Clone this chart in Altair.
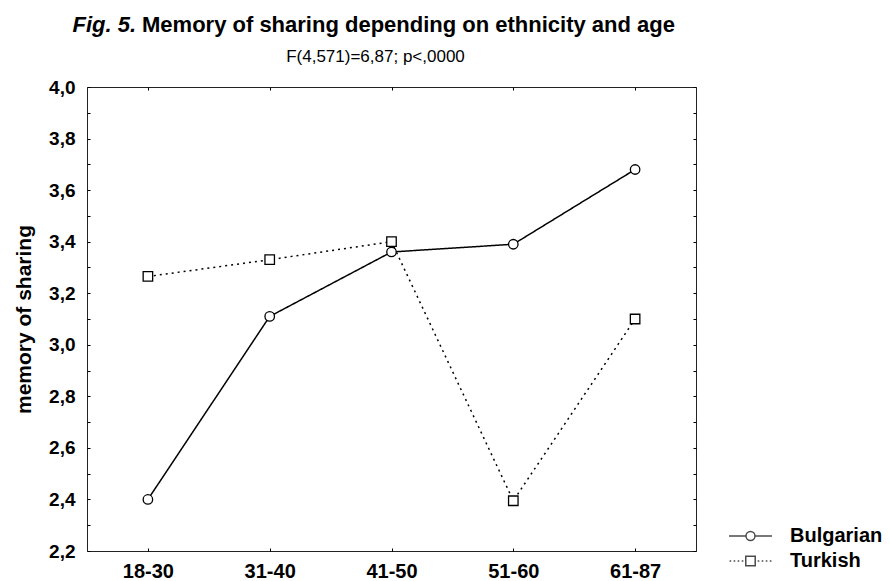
import altair as alt
import pandas as pd

ages = ["18-30", "31-40", "41-50", "51-60", "61-87"]
groups = ["Bulgarian", "Turkish"]
bulgarian = [2.40, 3.11, 3.36, 3.39, 3.68]
turkish = [3.265, 3.33, 3.40, 2.395, 3.10]
y_ticks = [2.2, 2.3, 2.4, 2.5, 2.6, 2.7, 2.8, 2.9, 3.0, 3.1, 3.2, 3.3, 3.4,
           3.5, 3.6, 3.7, 3.8, 3.9, 4.0]

title_fig = "Fig. 5."
title_main = "Memory of sharing depending on ethnicity and age"
subtitle = "F(4,571)=6,87; p<,0000"
y_title = "memory of sharing"

FONT = "Liberation Sans, Arial, Helvetica, sans-serif"

rows = []
for g, vals in zip(groups, [bulgarian, turkish]):
    for a, v in zip(ages, vals):
        rows.append({"age": a, "group": g, "value": v})
df = pd.DataFrame(rows)

W, H = 609, 464

xscale = alt.Scale(type="point", domain=ages, padding=0.5)
yscale = alt.Scale(domain=[2.2, 4.0], nice=False, zero=False)

label_expr = ("(round(datum.value*10) % 2 == 0) ? "
              "replace(format(datum.value, '.1f'), '.', ',') : ''")

base = alt.Chart(df)

lines = base.mark_line(color="black", strokeWidth=1.5).encode(
    x=alt.X("age:O", scale=xscale, sort=ages,
            axis=alt.Axis(orient="bottom", title=None, labelAngle=0,
                          labelFontSize=20, labelFontWeight="bold",
                          labelFont=FONT, labelColor="black",
                          labelPadding=10, tickSize=3, offset=-3,
                          tickColor="black", domain=False, grid=False)),
    y=alt.Y("value:Q", scale=yscale,
            axis=alt.Axis(orient="left", values=y_ticks, labelExpr=label_expr,
                          labelFontSize=19, labelFontWeight="bold",
                          labelFont=FONT, labelColor="black",
                          labelPadding=12, tickSize=3, offset=-3,
                          tickColor="black", domain=False, grid=False,
                          title=y_title, titleFontSize=21,
                          titleFontWeight="bold", titleFont=FONT,
                          titleColor="black", titleX=-56, titleY=H / 2,
                          titleAngle=270, titleBaseline="bottom",
                          titleAlign="center")),
    strokeDash=alt.StrokeDash("group:N",
                              scale=alt.Scale(domain=groups,
                                              range=[[1, 0], [2, 4]]),
                              legend=None),
    detail="group:N",
)

points = base.mark_point(filled=True, fill="white", stroke="black",
                         strokeWidth=1.3, size=90, opacity=1).encode(
    x=alt.X("age:O", scale=xscale, sort=ages,
            axis=alt.Axis(orient="top", labels=False, title=None,
                          tickSize=3, offset=-3, tickColor="black",
                          domain=False, grid=False)),
    y=alt.Y("value:Q", scale=yscale,
            axis=alt.Axis(orient="right", values=y_ticks, labels=False,
                          title=None, tickSize=3, offset=-3,
                          tickColor="black", domain=False, grid=False)),
    shape=alt.Shape("group:N",
                    scale=alt.Scale(domain=groups, range=["circle", "square"]),
                    legend=None),
)

bul_sym = ("M-1.59,0H-0.333M0.333,0H1.59"
           "M0.333,0A0.333,0.333 0 1 1 -0.333,0A0.333,0.333 0 1 1 0.333,0Z")
tur_sym = ("M-1.55,0H-1.43M-1.25,0H-1.13M-0.95,0H-0.83M-0.65,0H-0.53"
           "M-0.35,-0.35H0.35V0.35H-0.35Z"
           "M0.53,0H0.65M0.83,0H0.95M1.13,0H1.25M1.43,0H1.55")

legend_layer = base.transform_filter("false").mark_point(
    filled=False, stroke="black", strokeWidth=1.5).encode(
    shape=alt.Shape("group:N",
                    scale=alt.Scale(domain=groups, range=[bul_sym, tur_sym]),
                    legend=alt.Legend(orient="none", legendX=649,
                                      legendY=434.5, title=None,
                                      symbolSize=729, symbolStrokeWidth=1.5,
                                      symbolStrokeColor="black",
                                      labelFontSize=20,
                                      labelFontWeight="bold",
                                      labelFont=FONT, labelColor="black",
                                      labelOffset=25, rowPadding=0,
                                      padding=0, symbolOffset=0)),
)

t_fig = alt.Chart(pd.DataFrame({"t": [title_fig]})).mark_text(
    align="right", baseline="alphabetic", fontSize=22, fontWeight="bold",
    fontStyle="italic", font=FONT, color="black").encode(
    text="t:N", x=alt.value(49), y=alt.value(-55))

t_main = alt.Chart(pd.DataFrame({"t": [title_main]})).mark_text(
    align="center", baseline="alphabetic", fontSize=22, fontWeight="bold",
    font=FONT, color="black").encode(
    text="t:N", x=alt.value(321.5), y=alt.value(-55))

t_sub = alt.Chart(pd.DataFrame({"t": [subtitle]})).mark_text(
    align="center", baseline="alphabetic", fontSize=17, font=FONT,
    color="black").encode(
    text="t:N", x=alt.value(288.5), y=alt.value(-25))

chart = alt.layer(lines, points, legend_layer, t_fig, t_main, t_sub).resolve_axis(
    x="independent", y="independent"
).resolve_scale(
    shape="independent"
).properties(
    width=W, height=H,
    autosize=alt.AutoSizeParams(type="none"),
    padding={"left": 79, "top": 79, "right": 186, "bottom": 30},
    background="white",
).configure_view(
    stroke="#222", strokeWidth=1
)

chart.save("out.html", embed_options={"renderer": "svg", "actions": False})
